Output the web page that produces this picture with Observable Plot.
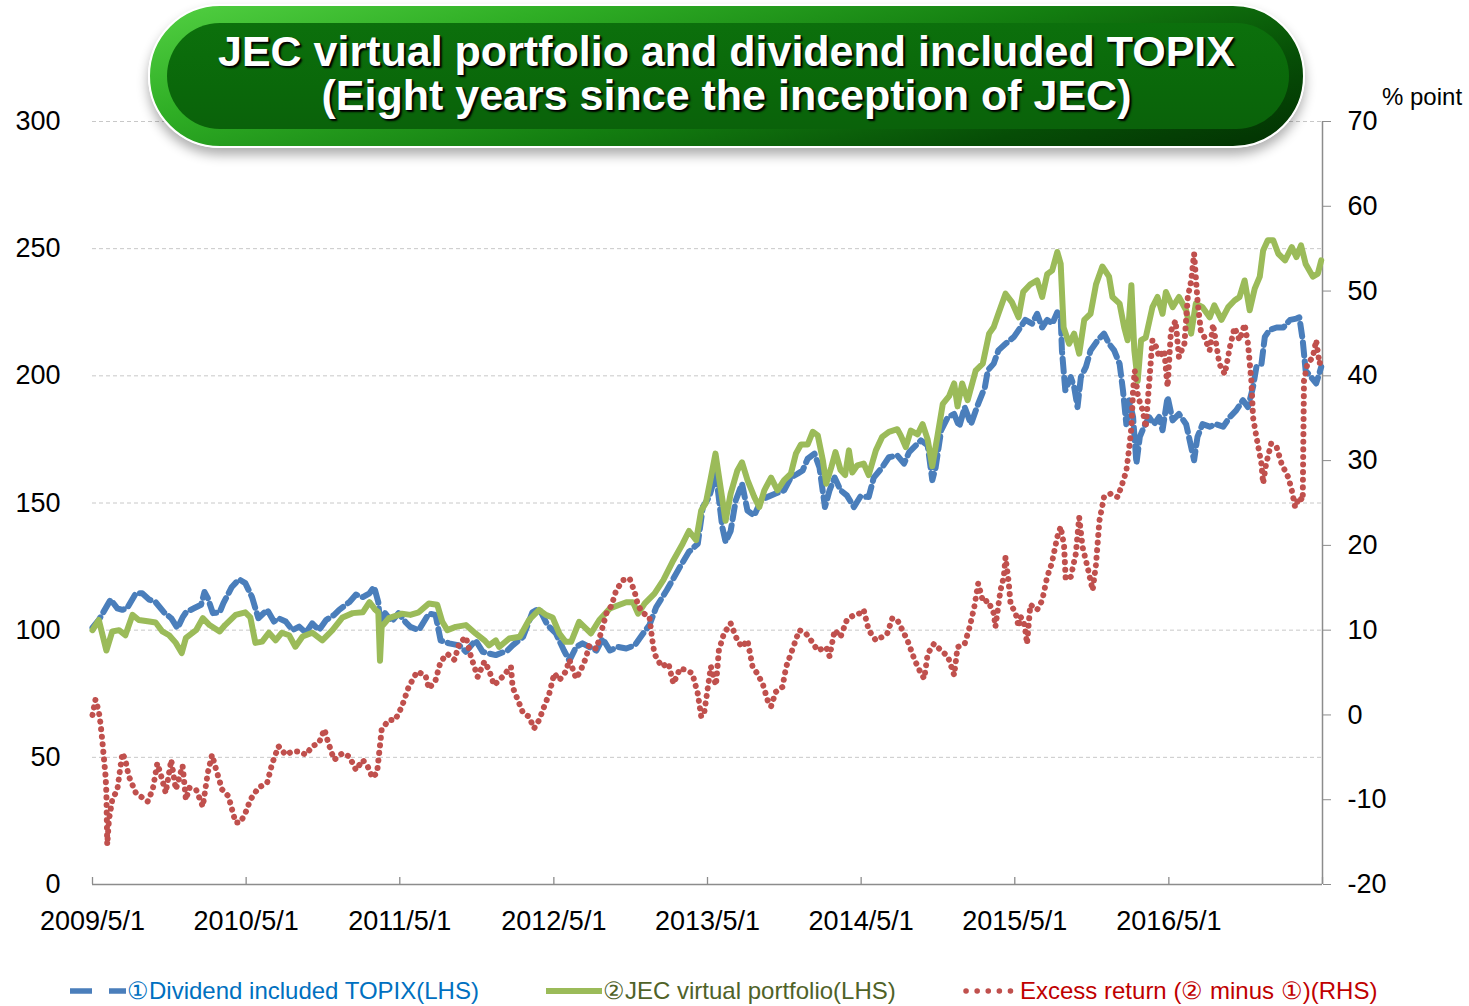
<!DOCTYPE html>
<html><head><meta charset="utf-8">
<script src="https://cdn.jsdelivr.net/npm/d3@7"></script>
<script src="https://cdn.jsdelivr.net/npm/@observablehq/plot@0.6"></script>
<style>
body{margin:0;background:#fff;font-family:"Liberation Sans",Arial,sans-serif;}
#wrap{position:relative;width:1469px;height:1006px;overflow:hidden;background:#fff;}
#chart{position:absolute;left:0;top:0;}
#banner{position:absolute;left:148px;top:4px;width:1153px;height:140px;border-radius:72px;
 background:linear-gradient(165deg,#52d042 0%,#2fae25 25%,#137d10 55%,#064d06 80%,#023002 100%);
 border:2px solid #fff;box-shadow:0 7px 12px rgba(0,0,0,0.32);}
#bannerInner{position:absolute;left:17px;top:17px;right:14px;bottom:17px;border-radius:58px;
 background:linear-gradient(180deg,#0c700c 0%,#0a680a 60%,#0a620a 100%);}
#title{position:absolute;left:148px;top:29px;width:1157px;text-align:center;color:#fff;font-weight:bold;
 font-size:43px;line-height:44px;text-shadow:2px 2px 2px #000,1px 1px 1px #000;}
#unit{position:absolute;left:1382px;top:83px;font-size:24px;color:#000;}
.leg{position:absolute;top:976px;height:30px;display:flex;align-items:center;font-size:24px;white-space:nowrap;}
.leg svg{margin-right:1px;}
</style></head><body><div id="wrap"><div id="chart"></div>
<div id="banner"><div id="bannerInner"></div></div>
<div id="title">JEC virtual portfolio and dividend included TOPIX<br>(Eight years since the inception of JEC)</div>
<div id="unit">% point</div>
</div>
<script>
const xTickDates = ["2009-05-01","2010-05-01","2011-05-01","2012-05-01","2013-05-01","2014-05-01","2015-05-01","2016-05-01"];
const xDomain = ["2009-05-01","2017-05-01"];
const leftTicks = [0,50,100,150,200,250,300];
const rightTicks = [-20,-10,0,10,20,30,40,50,60,70];
const legendLabels = ["①Dividend included TOPIX(LHS)","②JEC virtual portfolio(LHS)","Excess return (② minus ①)(RHS)"];

// ① Dividend included TOPIX (LHS)
const topix = [
["2009-05-01",101],["2009-05-16",104],["2009-06-13",112],["2009-06-29",108.6],["2009-07-11",108],["2009-07-22",108.6],
["2009-08-12",114.5],["2009-08-27",114.5],["2009-09-13",112],["2009-09-28",111],["2009-10-18",107],["2009-11-04",104.7],
["2009-11-19",100.8],["2009-12-01",105],["2009-12-09",107],["2009-12-28",108.6],["2010-01-14",110],["2010-01-22",115],
["2010-01-30",112.6],["2010-02-11",106.7],["2010-02-27",107],["2010-03-08",110.6],["2010-03-28",117],["2010-04-14",120],
["2010-04-29",118.5],["2010-05-15",113],["2010-05-30",104.7],["2010-06-20",108],["2010-07-06",103.4],["2010-07-17",104.7],
["2010-08-03",103.4],["2010-08-19",100],["2010-09-04",101.4],["2010-09-20",99],["2010-10-05",102.7],["2010-10-21",100],
["2010-11-07",104],["2010-11-26",106],["2010-12-08",108],["2011-01-01",111],["2011-01-17",114],["2011-02-02",113],
["2011-02-18",114.5],["2011-03-01",117],["2011-03-11",111],["2011-03-15",103],["2011-03-27",106.7],["2011-04-12",103.4],
["2011-04-28",106.7],["2011-05-14",103.3],["2011-05-26",101.3],["2011-06-15",100],["2011-07-09",106.5],["2011-07-25",106],
["2011-08-06",96],["2011-08-26",94.8],["2011-09-19",94],["2011-10-05",91.5],["2011-10-28",96],["2011-11-14",91.5],
["2011-11-29",90.8],["2011-12-15",90.2],["2012-01-12",92],["2012-01-24",94],["2012-02-18",97.4],["2012-03-11",107],
["2012-03-27",108.5],["2012-04-16",102],["2012-05-06",98.7],["2012-05-25",92],["2012-06-07",88],["2012-06-23",93.4],
["2012-07-08",94.8],["2012-07-24",93.4],["2012-08-10",92],["2012-08-25",96.7],["2012-09-11",92],["2012-09-30",93.4],
["2012-10-20",92.8],["2012-11-09",94],["2012-11-29",98.7],["2012-12-14",102],["2012-12-30",109],["2013-01-24",115.7],
["2013-02-25",125],["2013-03-18",130.8],["2013-04-08",134],["2013-04-20",148.5],["2013-05-05",152.4],["2013-05-21",161.6],
["2013-06-05",140.6],["2013-06-13",134.7],["2013-06-25",139],["2013-07-07",151],["2013-07-22",157.6],["2013-08-04",147],
["2013-08-20",145],["2013-09-05",151],["2013-09-21",152.4],["2013-10-10",153.7],["2013-10-30",155],["2013-11-15",160],
["2013-12-01",161.5],["2013-12-13",162.8],["2013-12-25",167.4],["2014-01-10",169.4],["2014-01-22",164],["2014-02-04",148.4],
["2014-02-15",155],["2014-02-27",160],["2014-03-13",155],["2014-03-28",153],["2014-04-14",148.4],["2014-04-29",152.5],
["2014-05-19",152.4],["2014-05-31",160],["2014-06-20",164],["2014-07-06",168],["2014-07-26",168.7],["2014-08-11",165.5],
["2014-08-23",170],["2014-09-20",174.6],["2014-10-06",172.7],["2014-10-17",159],["2014-10-25",164],["2014-11-07",178.5],
["2014-11-23",183.8],["2014-12-08",185],["2014-12-20",180],["2015-01-02",187.7],["2015-01-17",181],["2015-02-03",189],
["2015-02-19",195.6],["2015-02-26",202.2],["2015-03-12",204.8],["2015-03-23",210],["2015-04-09",212.6],["2015-04-29",215.3],
["2015-05-10",218],["2015-05-26",222],["2015-06-11",220.5],["2015-06-23",224.4],["2015-07-05",219],["2015-07-17",222],
["2015-07-29",220.5],["2015-08-10",225],["2015-08-18",223],["2015-08-21",210],["2015-08-29",194.3],["2015-09-11",199.5],
["2015-09-19",195.6],["2015-09-27",187.7],["2015-10-05",199.5],["2015-10-17",203.5],["2015-10-28",210],["2015-11-14",214],
["2015-11-29",216.6],["2015-12-11",212.6],["2015-12-23",210],["2016-01-05",204.7],["2016-01-13",194.3],["2016-01-21",181],
["2016-01-28",190.4],["2016-02-06",183.8],["2016-02-14",165.5],["2016-02-22",176],["2016-03-03",180],["2016-03-15",183.8],
["2016-03-27",181],["2016-04-08",183.8],["2016-04-16",178.6],["2016-04-28",191.7],["2016-05-10",182.5],["2016-05-25",185],
["2016-06-11",181],["2016-06-23",172],["2016-06-30",166.8],["2016-07-08",176],["2016-07-20",181],["2016-08-06",180],
["2016-08-21",181],["2016-09-07",180],["2016-09-23",183.8],["2016-10-08",186.4],["2016-10-24",190.4],["2016-11-05",187.7],
["2016-11-17",195.6],["2016-11-25",203.5],["2016-12-07",204.7],["2016-12-15",215.3],["2016-12-26",218],["2017-01-12",219],
["2017-01-28",219],["2017-02-13",222],["2017-02-28",222.5],["2017-03-07",223],["2017-03-15",214],["2017-03-22",202],
["2017-04-04",199.5],["2017-04-16",197],["2017-04-28",203.5]
];

// ② JEC virtual portfolio (LHS)
const jec = [
["2009-05-01",100],["2009-05-16",104],["2009-06-03",92],["2009-06-17",99.5],["2009-07-03",100],["2009-07-18",98],
["2009-08-04",106],["2009-08-19",104],["2009-09-13",103.4],["2009-09-28",103],["2009-10-14",99.5],["2009-10-30",98],
["2009-11-15",95],["2009-11-29",91],["2009-12-09",97],["2010-01-02",100],["2010-01-18",104.7],["2010-02-03",102],
["2010-02-27",99.5],["2010-03-12",102],["2010-04-06",106],["2010-04-29",107],["2010-05-11",105],["2010-05-23",95],
["2010-06-08",95.5],["2010-06-24",99],["2010-07-10",96],["2010-07-25",99],["2010-08-11",98],["2010-08-26",93.5],
["2010-09-12",97.5],["2010-10-05",99],["2010-10-29",96],["2010-11-22",100],["2010-12-16",105],["2011-01-09",106.7],
["2011-02-02",107],["2011-02-18",111],["2011-03-04",108],["2011-03-11",107],["2011-03-15",88],["2011-03-19",101.4],
["2011-04-05",104.7],["2011-04-28",106],["2011-05-06",106.5],["2011-05-26",106],["2011-06-15",107],["2011-07-09",110.5],
["2011-07-29",110],["2011-08-10",103.3],["2011-08-22",100],["2011-09-11",101.3],["2011-10-05",102],["2011-10-28",98.7],
["2011-11-18",96],["2011-11-29",94],["2011-12-15",96],["2011-12-23",93.4],["2012-01-16",96.7],["2012-02-10",97.4],
["2012-03-03",104],["2012-03-27",108],["2012-04-12",106],["2012-04-28",105],["2012-05-14",98.7],["2012-05-29",95.4],
["2012-06-11",95.4],["2012-06-30",103.3],["2012-07-16",100.7],["2012-07-28",98.7],["2012-08-17",104],["2012-09-11",108.5],
["2012-10-04",110],["2012-10-20",111],["2012-11-05",111],["2012-11-17",106.5],["2012-12-03",110.5],["2012-12-26",114.4],
["2013-01-16",119.7],["2013-02-09",127.5],["2013-03-03",134],["2013-03-18",139],["2013-04-04",135.4],["2013-04-16",147],
["2013-04-27",150],["2013-05-09",160],["2013-05-20",169.4],["2013-06-02",155],["2013-06-13",143],["2013-06-25",153.7],
["2013-07-11",162.8],["2013-07-22",166],["2013-08-04",159],["2013-08-20",152.4],["2013-09-01",148.4],["2013-09-13",155],
["2013-09-29",160],["2013-10-14",155],["2013-10-30",159],["2013-11-15",161.5],["2013-11-27",169.4],["2013-12-09",173],
["2013-12-25",173],["2014-01-06",178],["2014-01-18",176.6],["2014-01-30",166.8],["2014-02-07",157.6],["2014-02-19",164],
["2014-03-01",170],["2014-03-13",163],["2014-03-24",161],["2014-04-02",170.7],["2014-04-10",162],["2014-04-22",164.8],
["2014-05-07",165.5],["2014-05-19",161],["2014-06-05",170.7],["2014-06-20",176],["2014-07-06",178],["2014-07-26",179],
["2014-08-03",176.6],["2014-08-15",172],["2014-08-27",178.5],["2014-09-12",177],["2014-09-24",181],["2014-10-06",175],
["2014-10-17",164.5],["2014-10-29",176],["2014-11-11",189],["2014-11-26",192],["2014-12-08",197],["2014-12-16",188],
["2014-12-27",197],["2015-01-09",190.4],["2015-01-28",202],["2015-02-14",204.8],["2015-03-01",216.6],["2015-03-12",219.2],
["2015-03-23",224.4],["2015-04-09",232.3],["2015-04-24",229],["2015-05-10",223],["2015-05-21",233],["2015-06-07",236],
["2015-06-23",237.5],["2015-07-05",231],["2015-07-17",240],["2015-07-29",241.5],["2015-08-10",248.7],["2015-08-18",244],
["2015-08-25",219],["2015-09-07",212.6],["2015-09-19",216.6],["2015-10-01",208.7],["2015-10-13",222],["2015-10-28",224.4],
["2015-11-10",236],["2015-11-25",243],["2015-12-11",239],["2015-12-19",231],["2016-01-05",228.4],["2016-01-16",219],
["2016-01-24",214],["2016-02-02",235.6],["2016-02-09",210],["2016-02-17",198],["2016-02-25",214],["2016-03-07",215],
["2016-03-23",227],["2016-04-04",231],["2016-04-16",224.4],["2016-04-24",233],["2016-05-10",227],["2016-05-25",231],
["2016-06-11",225.8],["2016-06-23",216.6],["2016-07-04",228.4],["2016-07-20",227],["2016-08-06",223],["2016-08-17",227.7],
["2016-09-03",222],["2016-09-19",227],["2016-10-04",229.6],["2016-10-16",231],["2016-10-28",237.5],["2016-11-09",225.8],
["2016-11-21",234.3],["2016-12-03",239],["2016-12-11",249.3],["2016-12-22",253.3],["2017-01-04",253.3],["2017-01-16",248],
["2017-02-01",245.4],["2017-02-17",250.6],["2017-02-28",246.7],["2017-03-11",251.3],["2017-03-22",244],["2017-04-08",239],
["2017-04-20",240.2],["2017-04-28",245.4]
];

// Excess return (② minus ①), % point (RHS)
const excess = [
["2009-05-01",0],["2009-05-08",1.8],["2009-05-16",0.4],["2009-05-20",-1],["2009-05-24",-2.9],["2009-05-27",-4.5],
["2009-06-01",-7.2],["2009-06-03",-9.2],["2009-06-05",-15.3],["2009-06-09",-12.4],["2009-06-17",-10],["2009-06-29",-8.8],
["2009-07-11",-4.5],["2009-07-18",-5.3],["2009-07-26",-7.2],["2009-08-12",-9.2],["2009-08-23",-9.6],["2009-09-09",-10.2],
["2009-09-21",-8.8],["2009-10-02",-5.7],["2009-10-10",-7],["2009-10-22",-9.2],["2009-11-04",-5.3],["2009-11-15",-8.8],
["2009-12-01",-6],["2009-12-09",-10],["2009-12-17",-8.6],["2010-01-02",-8.8],["2010-01-18",-10.8],["2010-01-30",-6.8],
["2010-02-09",-4.7],["2010-02-19",-6.5],["2010-03-05",-8.8],["2010-03-20",-9.6],["2010-04-06",-12.7],["2010-04-17",-12.7],
["2010-04-29",-11.6],["2010-05-11",-10],["2010-05-30",-8.6],["2010-06-20",-8],["2010-07-02",-5.7],["2010-07-17",-3.7],
["2010-08-03",-4.7],["2010-08-19",-4.3],["2010-09-04",-4.3],["2010-09-20",-4.7],["2010-10-05",-3.7],["2010-10-21",-3.3],
["2010-11-03",-1.7],["2010-11-11",-3.1],["2010-11-26",-5.3],["2010-12-16",-4.5],["2011-01-01",-4.9],["2011-01-17",-6.5],
["2011-02-02",-5.3],["2011-02-14",-6.1],["2011-02-25",-7.4],["2011-03-08",-6.8],["2011-03-13",-4.5],["2011-03-19",-1.7],
["2011-04-05",-0.6],["2011-04-20",-0.6],["2011-05-06",1],["2011-05-22",3.3],["2011-06-11",5.1],["2011-07-01",4.7],
["2011-07-09",3.1],["2011-07-25",4.1],["2011-08-06",6.3],["2011-08-22",7.2],["2011-09-08",6.5],["2011-09-19",8.4],
["2011-10-05",9.2],["2011-10-17",6.9],["2011-11-02",4.5],["2011-11-18",6.3],["2011-11-29",5.3],["2011-12-11",3.5],
["2011-12-31",4.5],["2012-01-20",5.7],["2012-01-24",3.3],["2012-02-06",1.7],["2012-02-18",0.2],["2012-03-03",-0.2],
["2012-03-15",-1.6],["2012-03-27",-0.6],["2012-04-08",1],["2012-04-20",2.5],["2012-05-02",4.9],["2012-05-14",4.1],
["2012-05-29",5.1],["2012-06-07",6.5],["2012-06-23",4.3],["2012-07-04",5.3],["2012-07-16",6.7],["2012-07-24",8.2],
["2012-08-10",7.8],["2012-08-25",10.4],["2012-09-03",12],["2012-09-15",12.9],["2012-09-26",14.7],["2012-10-12",15.9],
["2012-10-28",16.1],["2012-11-09",14.5],["2012-11-17",12.9],["2012-11-29",12],["2012-12-14",11.6],["2012-12-21",8.8],
["2012-12-26",7.2],["2013-01-12",5.7],["2013-01-28",6.1],["2013-02-09",3.7],["2013-02-25",5.5],["2013-03-11",5.3],
["2013-03-26",4.9],["2013-04-08",2.5],["2013-04-16",-0.2],["2013-04-23",0.2],["2013-05-09",5.7],["2013-05-21",3.5],
["2013-05-28",7.6],["2013-06-09",9.6],["2013-06-25",10.8],["2013-07-11",8.8],["2013-07-22",8],["2013-08-04",8.8],
["2013-08-16",5.7],["2013-08-27",4.9],["2013-09-09",3.7],["2013-09-21",1.7],["2013-09-29",1],["2013-10-10",2.7],
["2013-10-26",3.3],["2013-11-04",5.7],["2013-11-15",7.2],["2013-12-05",10],["2013-12-21",9.6],["2014-01-02",8.8],
["2014-01-18",7.6],["2014-02-07",8],["2014-02-15",6.9],["2014-02-27",10],["2014-03-13",9.2],["2014-03-28",11.2],
["2014-04-14",11.8],["2014-04-29",12],["2014-05-07",12.4],["2014-05-19",10],["2014-06-05",8.8],["2014-06-20",9.2],
["2014-07-02",9.6],["2014-07-14",11.4],["2014-07-26",11.2],["2014-08-07",10],["2014-08-19",8.8],["2014-09-05",6.5],
["2014-09-20",4.9],["2014-09-28",4.3],["2014-10-06",7.2],["2014-10-21",8.4],["2014-11-07",7.6],["2014-11-23",6.9],
["2014-12-08",4.7],["2014-12-16",8],["2015-01-02",8.4],["2015-01-14",10.4],["2015-01-25",12.8],["2015-02-03",15.5],
["2015-02-15",13.3],["2015-02-26",13.5],["2015-03-12",12],["2015-03-16",10.4],["2015-03-28",14.7],["2015-04-05",16.3],
["2015-04-09",18.6],["2015-04-16",15.9],["2015-04-21",13.1],["2015-05-03",12],["2015-05-10",10.4],["2015-05-14",11.6],
["2015-05-21",11.2],["2015-05-26",10],["2015-05-30",8.4],["2015-06-07",13],["2015-06-23",12.4],["2015-07-05",13.5],
["2015-07-17",16.3],["2015-07-28",17.9],["2015-08-10",21],["2015-08-18",22.2],["2015-08-26",20],["2015-08-30",16],
["2015-09-11",16.3],["2015-09-23",19],["2015-10-01",23.3],["2015-10-09",19.8],["2015-10-21",17.4],["2015-11-02",14.7],
["2015-11-10",17.8],["2015-11-18",22.9],["2015-11-29",25.7],["2015-12-15",26.1],["2015-12-31",25.7],["2016-01-09",26.9],
["2016-01-21",28.8],["2016-01-28",31.6],["2016-02-02",33.9],["2016-02-06",38.3],["2016-02-10",40.6],["2016-02-18",37.5],
["2016-02-29",35.9],["2016-03-07",33.9],["2016-03-15",39],["2016-03-23",44.2],["2016-04-01",43.4],["2016-04-08",42.2],
["2016-04-20",43],["2016-04-28",38.7],["2016-05-06",45.3],["2016-05-17",46.5],["2016-05-25",42.2],["2016-06-07",43.8],
["2016-06-15",49.3],["2016-06-23",51.2],["2016-06-30",54.4],["2016-07-08",48.9],["2016-07-16",45.3],["2016-07-24",44.6],
["2016-08-06",43],["2016-08-14",46.1],["2016-08-29",41.4],["2016-09-11",40.2],["2016-09-23",43.4],["2016-10-04",45.7],
["2016-10-16",44.2],["2016-10-28",46.1],["2016-11-05",43.8],["2016-11-13",39.4],["2016-11-17",35.1],["2016-11-25",32.8],
["2016-12-07",29.6],["2016-12-11",27.3],["2016-12-18",29.6],["2016-12-30",32],["2017-01-12",31.6],["2017-01-24",29.6],
["2017-02-09",28],["2017-02-17",26.5],["2017-02-25",24.5],["2017-03-07",25.7],["2017-03-15",25.3],["2017-03-18",39.4],
["2017-03-26",41.4],["2017-04-08",42.2],["2017-04-16",44.2],["2017-04-24",41.4],["2017-04-28",42.2]
];

const colors = {topix:"#4A7EBB", jec:"#9BBB59", excess:"#C0504D"};
const textColors = ["#0070C0","#4F6228","#C00000"];

const rows = a => a.map(([d,v]) => ({date:new Date(d), v}));
// right axis (-20..70) is mapped onto the left scale (0..300)
const rightToLeft = r => (r + 20) * 300 / 90;
const fmtDate = d => `${d.getUTCFullYear()}/${d.getUTCMonth()+1}/${d.getUTCDate()}`;
const tickLen = 7 * 300 / 763; // 7px inward tick, in y units

const chart = Plot.plot({
  width: 1469, height: 960,
  marginLeft: 92, marginRight: 147, marginTop: 121, marginBottom: 76,
  style: {fontFamily: '"Liberation Sans", Arial, sans-serif', fontSize: "27px", color: "#000", background: "transparent"},
  x: {type: "utc", domain: xDomain.map(d => new Date(d))},
  y: {type: "linear", domain: [0, 300]},
  marks: [
    Plot.gridY(leftTicks.filter(t => t > 0), {stroke: "#c8c8c8", strokeOpacity: 1, strokeDasharray: "4,3"}),
    Plot.axisY(leftTicks, {anchor: "left", tickSize: 0, tickPadding: 32, label: null, fontSize: 27}),
    Plot.axisY(rightTicks.map(rightToLeft), {anchor: "right", tickSize: 8, tickPadding: 17, label: null, fontSize: 27,
      stroke: "#8c8c8c", tickFormat: v => String(Math.round(v * 90 / 300 - 20))}),
    Plot.axisX(xTickDates.map(d => new Date(d)), {anchor: "bottom", tickSize: 0, tickPadding: 26, label: null, fontSize: 27, tickFormat: fmtDate}),
    Plot.ruleX(xTickDates.concat([xDomain[1]]).map(d => new Date(d)), {y1: 0, y2: tickLen, stroke: "#8c8c8c", strokeWidth: 1.3}),
    Plot.ruleY([0], {stroke: "#8c8c8c", strokeWidth: 1.5}),
    Plot.ruleX([new Date(xDomain[1])], {stroke: "#8c8c8c", strokeWidth: 1.5}),
    Plot.line(rows(topix), {x: "date", y: "v", stroke: colors.topix, strokeWidth: 6, strokeDasharray: "13,6", strokeLinejoin: "round"}),
    Plot.line(rows(jec), {x: "date", y: "v", stroke: colors.jec, strokeWidth: 6, strokeLinejoin: "round"}),
    Plot.line(rows(excess), {x: "date", y: d => rightToLeft(d.v), stroke: colors.excess, strokeWidth: 6,
      strokeDasharray: "0.1,7.5", strokeLinecap: "round", strokeLinejoin: "round"})
  ]
});
document.getElementById("chart").appendChild(chart);

// legend
const wrap = document.getElementById("wrap");
const legendSpecs = [
  {left: 70, color: colors.topix, dash: "22,17", cap: "butt", width: 5.5},
  {left: 546, color: colors.jec, dash: null, cap: "butt", width: 6},
  {left: 963, color: colors.excess, dash: "0.1,11", cap: "round", width: 5.5}
];
legendSpecs.forEach((s, i) => {
  const div = document.createElement("div");
  div.className = "leg";
  div.style.left = s.left + "px";
  div.innerHTML = `<svg width="56" height="12"><line x1="${s.cap === "round" ? 3 : 0}" y1="6" x2="${s.cap === "round" ? 53 : 56}" y2="6" stroke="${s.color}" stroke-width="${s.width}" ${s.dash ? `stroke-dasharray="${s.dash}"` : ""} stroke-linecap="${s.cap}"/></svg><span style="color:${textColors[i]}">${legendLabels[i]}</span>`;
  wrap.appendChild(div);
});
</script>
</body></html>
